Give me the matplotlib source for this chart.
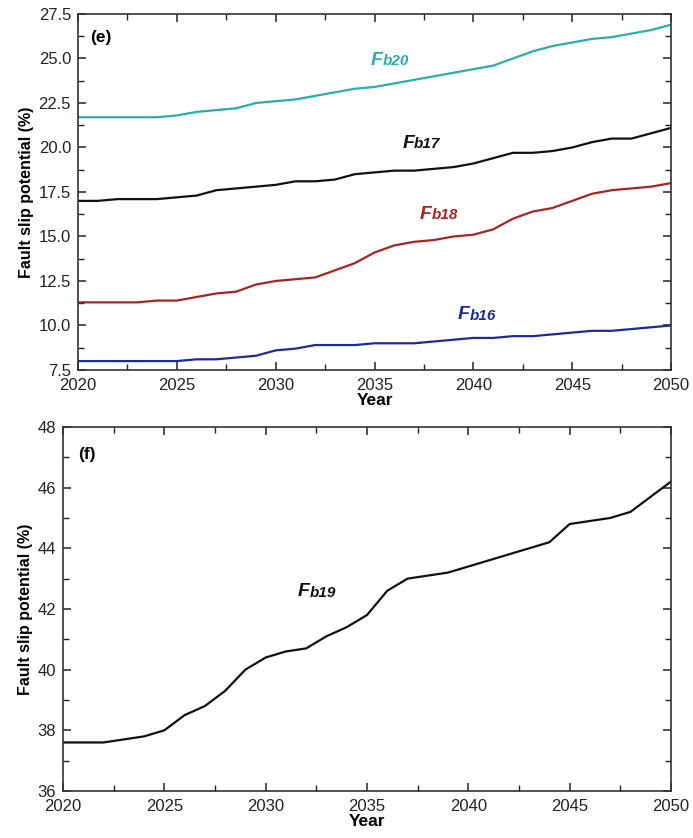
import matplotlib
matplotlib.use("Agg")
import matplotlib.pyplot as plt
from matplotlib.ticker import MultipleLocator, FormatStrFormatter

plt.rcParams['font.family'] = ['Liberation Sans', 'DejaVu Sans']

years = list(range(2020, 2051))

fb20 = [21.7, 21.7, 21.7, 21.7, 21.7, 21.8, 22.0, 22.1, 22.2, 22.5, 22.6,
        22.7, 22.9, 23.1, 23.3, 23.4, 23.6, 23.8, 24.0, 24.2, 24.4,
        24.6, 25.0, 25.4, 25.7, 25.9, 26.1, 26.2, 26.4, 26.6, 26.9]
fb17 = [17.0, 17.0, 17.1, 17.1, 17.1, 17.2, 17.3, 17.6, 17.7, 17.8, 17.9,
        18.1, 18.1, 18.2, 18.5, 18.6, 18.7, 18.7, 18.8, 18.9, 19.1,
        19.4, 19.7, 19.7, 19.8, 20.0, 20.3, 20.5, 20.5, 20.8, 21.1]
fb18 = [11.3, 11.3, 11.3, 11.3, 11.4, 11.4, 11.6, 11.8, 11.9, 12.3, 12.5,
        12.6, 12.7, 13.1, 13.5, 14.1, 14.5, 14.7, 14.8, 15.0, 15.1,
        15.4, 16.0, 16.4, 16.6, 17.0, 17.4, 17.6, 17.7, 17.8, 18.0]
fb16 = [8.0, 8.0, 8.0, 8.0, 8.0, 8.0, 8.1, 8.1, 8.2, 8.3, 8.6,
        8.7, 8.9, 8.9, 8.9, 9.0, 9.0, 9.0, 9.1, 9.2, 9.3,
        9.3, 9.4, 9.4, 9.5, 9.6, 9.7, 9.7, 9.8, 9.9, 10.0]
fb19 = [37.6, 37.6, 37.6, 37.7, 37.8, 38.0, 38.5, 38.8, 39.3, 40.0, 40.4,
        40.6, 40.7, 41.1, 41.4, 41.8, 42.6, 43.0, 43.1, 43.2, 43.4,
        43.6, 43.8, 44.0, 44.2, 44.8, 44.9, 45.0, 45.2, 45.7, 46.2]

top_series = [
    (fb20, '#2aaea9', 'b20', (2034.8, 24.9)),
    (fb17, '#111111', 'b17', (2036.4, 20.25)),
    (fb18, '#a82424', 'b18', (2037.3, 16.26)),
    (fb16, '#1f2a9a', 'b16', (2039.2, 10.6)),
]


def fault_label(ax, x, y, suffix, color):
    t = ax.text(x, y, 'F', fontsize=14, fontweight='bold', style='italic',
                color=color, va='center', ha='left')
    ax.annotate(suffix, xy=(1, 0.22), xycoords=t, fontsize=11,
                fontweight='bold', style='italic', color=color,
                va='baseline', ha='left')


def style_axes(ax, ymaj, ymin):
    ax.set_xlim(2020, 2050)
    ax.xaxis.set_major_locator(MultipleLocator(5))
    ax.xaxis.set_minor_locator(MultipleLocator(2.5))
    ax.yaxis.set_major_locator(MultipleLocator(ymaj))
    ax.yaxis.set_minor_locator(MultipleLocator(ymin))
    ax.tick_params(which='both', direction='in', top=True, right=True,
                   labelsize=12, colors='#222222')
    ax.tick_params(which='major', length=6, width=1.1)
    ax.tick_params(which='minor', length=4, width=1.0)
    ax.tick_params(axis='x', pad=6)
    ax.tick_params(axis='y', pad=5)
    for s in ax.spines.values():
        s.set_linewidth(1.2)
        s.set_color('#333333')
    ax.set_xlabel('Year', fontsize=12.5, fontweight='bold', labelpad=0)
    ax.set_ylabel('Fault slip potential (%)', fontsize=11.5,
                  fontweight='bold', labelpad=3)


fig = plt.figure(figsize=(6.93, 8.38), dpi=100)

ax1 = fig.add_axes([0.1126, 0.5585, 0.8557, 0.4248])
for vals, col, suf, pos in top_series:
    ax1.plot(years, vals, color=col, lw=1.6)
    fault_label(ax1, pos[0], pos[1], suf, col)
ax1.set_ylim(7.5, 27.5)
style_axes(ax1, 2.5, 1.25)
ax1.yaxis.set_major_formatter(FormatStrFormatter('%.1f'))
ax1.text(0.02, 0.955, '(e)', transform=ax1.transAxes, fontsize=12.5,
         fontweight='bold', va='top')

ax2 = fig.add_axes([0.0909, 0.0561, 0.8773, 0.4344])
ax2.plot(years, fb19, color='#111111', lw=1.6)
fault_label(ax2, 2031.6, 42.56, 'b19', '#111111')
ax2.set_ylim(36, 48)
style_axes(ax2, 2, 1)
ax2.text(0.025, 0.945, '(f)', transform=ax2.transAxes, fontsize=12.5,
         fontweight='bold', va='top')

fig.savefig('out.png', dpi=100)
